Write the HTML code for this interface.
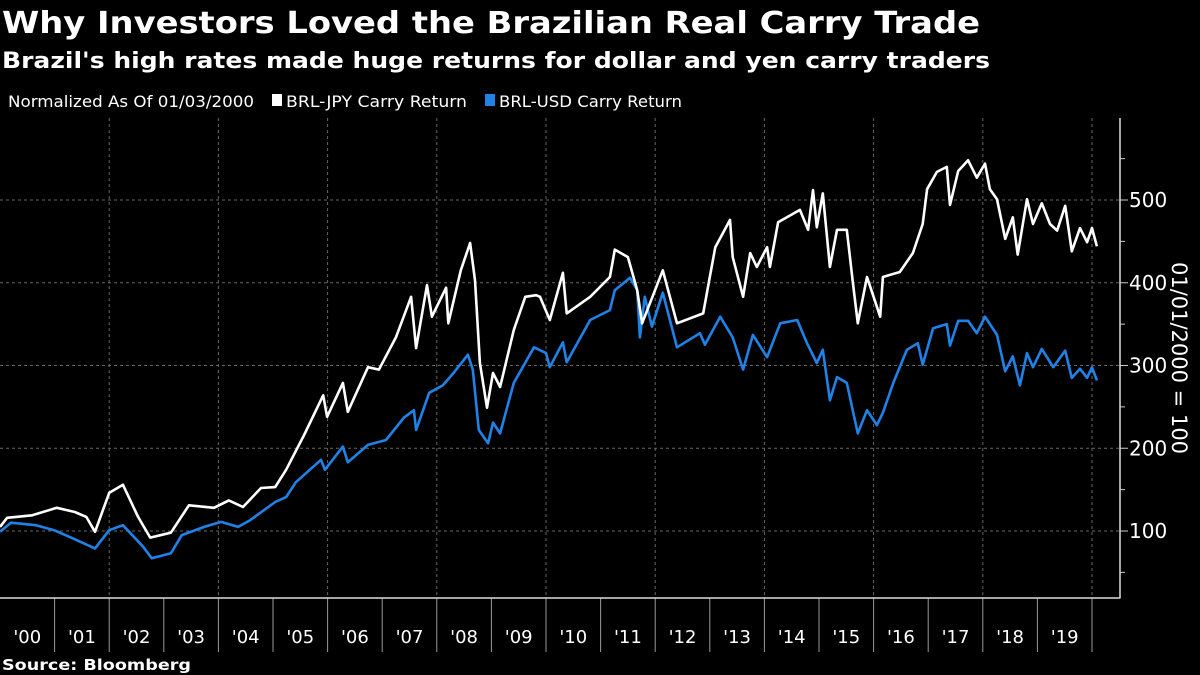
<!DOCTYPE html>
<html><head><meta charset="utf-8"><style>
body{margin:0;background:#000;width:1200px;height:675px;overflow:hidden;font-family:"DejaVu Sans","Liberation Sans",sans-serif;color:#fff}
</style></head><body>
<svg id="c" width="1200" height="675" style="position:absolute;left:0;top:0" font-family="DejaVu Sans, Liberation Sans, sans-serif">
<text x="2" y="33" font-size="30" font-weight="bold" fill="#fff" textLength="978" lengthAdjust="spacingAndGlyphs">Why Investors Loved the Brazilian Real Carry Trade</text>
<text x="2" y="68" font-size="22" font-weight="bold" fill="#fff" textLength="988" lengthAdjust="spacingAndGlyphs">Brazil's high rates made huge returns for dollar and yen carry traders</text>
<g font-size="16" fill="#fff">
<text x="8" y="107" textLength="246" lengthAdjust="spacingAndGlyphs">Normalized As Of 01/03/2000</text>
<rect x="272" y="94" width="10" height="12" fill="#fff"/>
<text x="286" y="107" textLength="181" lengthAdjust="spacingAndGlyphs">BRL-JPY Carry Return</text>
<rect x="485" y="94" width="10" height="12" fill="#1f82e6"/>
<text x="499" y="107" textLength="183" lengthAdjust="spacingAndGlyphs">BRL-USD Carry Return</text>
</g>
<g id="grid"></g>
<g id="axes"></g>
<g id="series"></g>
<text x="2" y="670" font-size="15" font-weight="bold" fill="#fff" textLength="189" lengthAdjust="spacingAndGlyphs">Source: Bloomberg</text>
<text transform="translate(1172,358) rotate(90)" text-anchor="middle" font-size="21" fill="#fff">01/01/2000 = 100</text>
</svg>
<script>
const yTicks=[100,200,300,400,500];
const yMinorTicks=[50,150,250,350,450,550];
const yearLabels=["'00","'01","'02","'03","'04","'05","'06","'07","'08","'09","'10","'11","'12","'13","'14","'15","'16","'17","'18","'19"];
const gridYears=[2002,2004,2006,2008,2010,2012,2014,2016,2018,2020];
const jpyDates=[2000.00,2000.13,2000.59,2001.04,2001.37,2001.58,2001.74,2002.00,2002.25,2002.53,2002.75,2003.13,2003.46,2003.92,2004.19,2004.45,2004.78,2005.04,2005.24,2005.57,2005.92,2005.99,2006.28,2006.37,2006.74,2006.94,2007.25,2007.53,2007.62,2007.82,2007.91,2008.17,2008.21,2008.44,2008.61,2008.70,2008.79,2008.92,2009.03,2009.16,2009.41,2009.62,2009.82,2009.89,2010.07,2010.31,2010.38,2010.81,2011.17,2011.26,2011.50,2011.67,2011.76,2012.14,2012.40,2012.88,2013.00,2013.10,2013.37,2013.42,2013.61,2013.74,2013.86,2014.05,2014.10,2014.25,2014.65,2014.80,2014.89,2014.96,2015.07,2015.20,2015.33,2015.51,2015.62,2015.71,2015.88,2016.12,2016.17,2016.48,2016.72,2016.90,2016.98,2017.16,2017.34,2017.40,2017.55,2017.73,2017.89,2018.04,2018.13,2018.26,2018.41,2018.55,2018.64,2018.81,2018.92,2019.08,2019.23,2019.36,2019.51,2019.63,2019.78,2019.91,2020.00,2020.09];
const jpyValues=[105,116,119,128,123,117,99,146,156,117,92,98,131,128,137,129,152,153,174,216,264,238,279,244,298,295,334,383,321,397,359,394,351,415,448,403,303,249,291,274,343,383,385,383,355,412,363,383,407,440,431,391,351,415,351,363,407,443,476,431,383,436,419,443,419,473,488,464,512,467,508,419,464,464,400,351,407,359,407,413,436,471,513,534,540,494,535,548,527,544,513,501,453,479,434,501,471,496,471,463,493,438,466,449,466,444];
const usdDates=[2000.00,2000.20,2000.66,2000.99,2001.30,2001.74,2002.00,2002.25,2002.62,2002.78,2003.13,2003.33,2003.74,2004.05,2004.36,2004.58,2005.04,2005.24,2005.42,2005.88,2005.95,2006.28,2006.37,2006.74,2007.07,2007.40,2007.58,2007.62,2007.86,2008.11,2008.32,2008.57,2008.66,2008.77,2008.94,2009.03,2009.16,2009.41,2009.78,2010.00,2010.07,2010.31,2010.38,2010.81,2011.17,2011.26,2011.54,2011.67,2011.72,2011.81,2011.94,2012.14,2012.40,2012.82,2012.91,2013.19,2013.42,2013.61,2013.79,2014.05,2014.29,2014.60,2014.78,2014.96,2015.07,2015.20,2015.33,2015.51,2015.71,2015.88,2016.06,2016.17,2016.36,2016.61,2016.81,2016.90,2017.09,2017.34,2017.40,2017.55,2017.73,2017.89,2018.04,2018.26,2018.41,2018.55,2018.68,2018.81,2018.92,2019.08,2019.29,2019.51,2019.63,2019.78,2019.91,2020.00,2020.09];
const usdValues=[99,110,107,101,92,79,101,107,81,67,73,95,105,111,105,113,135,141,159,186,174,202,183,204,210,237,246,222,267,276,292,313,295,222,206,231,218,279,322,315,298,328,304,355,367,391,406,391,334,383,347,388,322,339,325,359,334,295,337,310,351,355,327,303,319,258,286,279,218,246,228,243,279,319,327,301,345,350,324,354,354,339,359,337,293,311,276,315,298,320,298,318,285,296,285,298,282];

const NS="http://www.w3.org/2000/svg";
const xS=t=>(t-2000)*54.6;
const yS=v=>531-(v-100)*0.8275;
const X0=0,X1=1120,Y0=118,Y1=598;
function mk(tag,attrs,parent){const e=document.createElementNS(NS,tag);for(const k in attrs)e.setAttribute(k,attrs[k]);parent.appendChild(e);return e;}
const grid=document.getElementById('grid'),axes=document.getElementById('axes'),series=document.getElementById('series');
yTicks.forEach(v=>{
  const l=mk('line',{x1:X0,x2:X1,y1:yS(v),y2:yS(v),stroke:'#666','stroke-width':1,'stroke-dasharray':'3,3'},grid);
  
  
  const t=mk('line',{x1:X1,x2:X1+8,y1:yS(v),y2:yS(v),stroke:'#ccc','stroke-width':1},axes);
  
  
  const tx=mk('text',{x:X1+9,y:yS(v)+7,'font-size':20,fill:'#fff'},axes);
  tx.textContent=v;
  
  
});
yMinorTicks.forEach(v=>{
  const t=mk('line',{x1:X1,x2:X1+5,y1:yS(v),y2:yS(v),stroke:'#ccc','stroke-width':1},axes);
  
  
});
gridYears.forEach(yr=>{
  const l=mk('line',{x1:xS(yr),x2:xS(yr),y1:Y0,y2:Y1,stroke:'#666','stroke-width':1,'stroke-dasharray':'3,3'},grid);
  
  
});
yearLabels.forEach((lab,i)=>{
  const t=mk('line',{x1:xS(2001+i),x2:xS(2001+i),y1:Y1,y2:652,stroke:'#999','stroke-width':1},axes);
  
  
  const tx=mk('text',{x:xS(2000.5+i),y:643,'font-size':18,fill:'#fff','text-anchor':'middle'},axes);
  tx.textContent=lab;
  
  
});
const ax=mk('line',{x1:X0,x2:X1+0.5,y1:Y1,y2:Y1,stroke:'#ddd','stroke-width':1.5},axes);


const ay=mk('line',{x1:X1,x2:X1,y1:Y0,y2:Y1,stroke:'#ddd','stroke-width':1.5},axes);


function line(dates,vals,color,name){
  const d=dates.map((t,i)=>(i?'L':'M')+xS(t).toFixed(1)+','+yS(vals[i]).toFixed(1)).join('');
  const p=mk('path',{d:d,fill:'none',stroke:color,'stroke-width':2.6,'stroke-linejoin':'round'},series);
  
  
}
line(usdDates,usdValues,'#1f82e6','brl-usd-line');
line(jpyDates,jpyValues,'#ffffff','brl-jpy-line');
</script>
</body></html>
